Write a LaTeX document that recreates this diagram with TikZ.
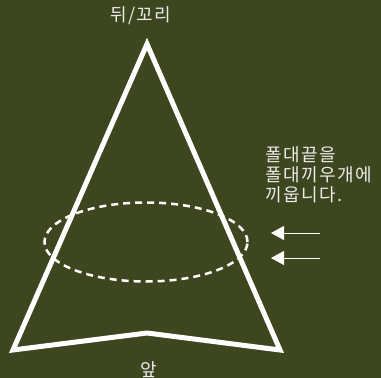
\documentclass[tikz,border=0pt]{standalone}
\usepackage{fontspec}
\newfontfamily\kor[LetterSpace=8]{Noto Sans CJK KR}
\usetikzlibrary{arrows.meta,shapes.geometric}
\definecolor{olivebg}{RGB}{62,70,31}
\definecolor{labelgray}{RGB}{236,236,236}
\tikzset{
  lbl/.style={text=labelgray, font=\kor\fontsize{18}{20}\selectfont, inner sep=0pt},
  pushar/.style={draw=white, line width=1pt, -{Triangle[length=13pt,width=14pt]}}
}
\begin{document}
\begin{tikzpicture}[x=1pt,y=-1pt]
\fill[olivebg] (0,0) rectangle (381,378);
\useasboundingbox (0,0) rectangle (381,378);
\coordinate (apex) at (147,44);
\coordinate (bl) at (13,350);
\coordinate (bm) at (147,333);
\coordinate (br) at (280,350);
\draw[white, line width=5pt, line join=miter] (apex) -- (br) -- (bm) -- (bl) -- cycle;
\node[draw=white, dash pattern=on 7pt off 5pt, line width=2.5pt, ellipse, minimum width=203pt, minimum height=79pt, inner sep=0pt] (pole) at (146,242) {};
\node[lbl] (tail) at (141,16) {뒤/꼬리};
\node[lbl] (front) at (149,370) {앞};
\node[lbl, align=left, anchor=north west] (note) at (265,146) {폴대끝을\\폴대끼우개에\\끼웁니다.};
\coordinate (a1s) at (320,233);
\coordinate (a1e) at (271,233);
\coordinate (a2s) at (320,258);
\coordinate (a2e) at (271,258);
\draw[pushar] (a1s) -- (a1e);
\draw[pushar] (a2s) -- (a2e);
\end{tikzpicture}
\end{document}
